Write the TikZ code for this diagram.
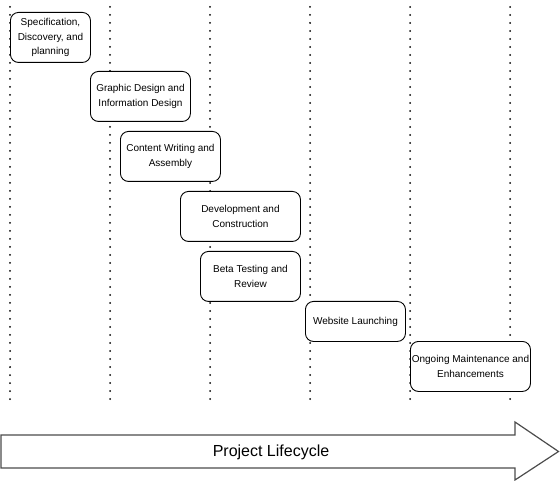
\documentclass[tikz,border=0pt]{standalone}
\usepackage{fontspec}
\setmainfont{Liberation Sans}
\usepackage{tikz}

\begin{document}
\begin{tikzpicture}[x=1pt, y=-1pt,
    phase/.style={line width=0.9pt, draw, rectangle, rounded corners=8pt, fill=white, anchor=north west,
        inner sep=0pt, align=center, font=\fontsize{10}{14.5}\selectfont},
    guide/.style={line width=2pt, line cap=round, dash pattern=on 0pt off 8pt}]
    \useasboundingbox (0,0) rectangle (560,481);
    % dotted time lines behind the phases
    \foreach \x in {10,110,...,510}
        \draw[guide] (\x,7)--(\x,400);
    \node[phase, minimum width=80, minimum height=50](spec) at (10,12){Specification,\\Discovery, and\\planning};
    \node[phase, minimum width=100, minimum height=50](gd) at (90,71){Graphic Design and\\Information Design};
    \node[phase, minimum width=100, minimum height=50](cw) at (120,131){Content Writing and\\Assembly};
    \node[phase, minimum width=120, minimum height=50](dev) at (180,191){Development and\\Construction};
    \node[phase, minimum width=100, minimum height=50](beta) at (200,251){Beta Testing and\\Review};
    \node[phase, minimum width=100, minimum height=40](web) at (305,301){Website Launching};
    \node[phase, minimum width=120, minimum height=50](ong) at (410,341){Ongoing Maintenance and\\Enhancements};
    % lifecycle arrow
    \draw[line width=1.2pt, draw=black!70, line join=miter]
    (1,435)--(515,435)--(515,422)--(558.5,451.5)--(515,480)--(515,468)--(1,468)--cycle;
    \node[font=\fontsize{16}{19}\selectfont](life) at (271,452){Project Lifecycle};
\end{tikzpicture}
\end{document}
